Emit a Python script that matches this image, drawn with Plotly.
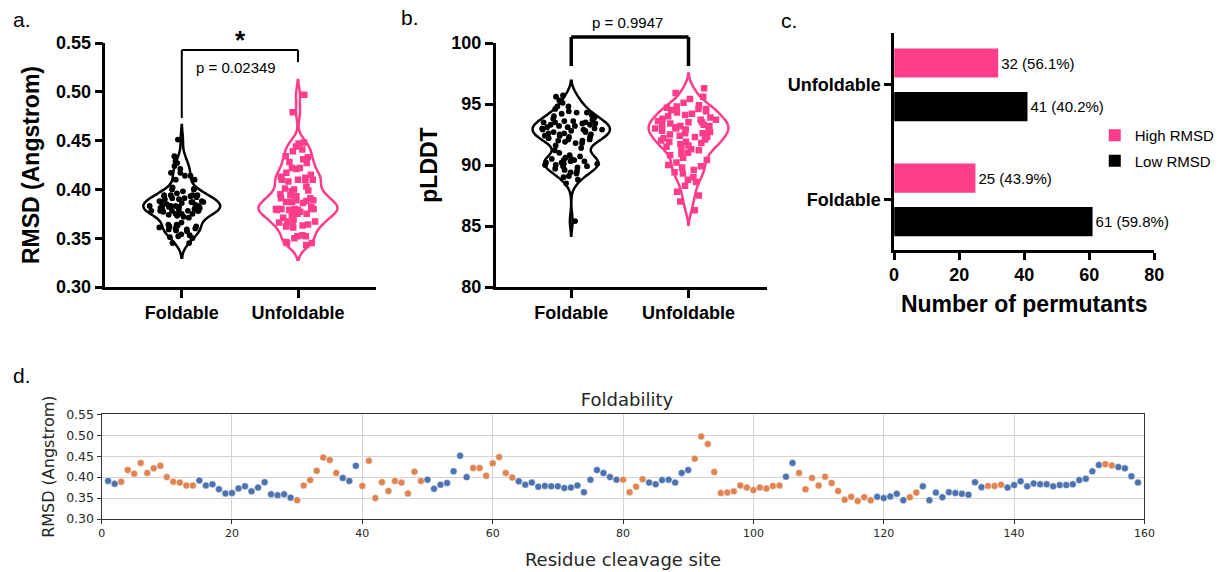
import plotly.graph_objects as go

W, H = 1220, 572
def fx(px): return px / W
def fy(py): return 1 - py / H

ARIAL = "Arial, 'Liberation Sans', sans-serif"
DEJAVU = "'DejaVu Sans', sans-serif"
PINK = "#FF3D8B"
BLUE = "#4C72B0"
ORANGE = "#DD8452"

# ---------------- data ----------------
categories = ["Foldable", "Unfoldable"]

residue_site = list(range(1, 160))
rmsd_by_site = [
    0.391, 0.384, 0.389, 0.417, 0.408, 0.434, 0.410, 0.421, 0.427, 0.400,
    0.389, 0.387, 0.380, 0.380, 0.392, 0.380, 0.383, 0.371, 0.361, 0.362,
    0.373, 0.378, 0.366, 0.375, 0.388, 0.359, 0.357, 0.359, 0.351, 0.345,
    0.380, 0.393, 0.415, 0.447, 0.441, 0.410, 0.398, 0.391, 0.427, 0.379,
    0.439, 0.350, 0.388, 0.367, 0.391, 0.387, 0.361, 0.413, 0.391, 0.394,
    0.372, 0.382, 0.386, 0.414, 0.451, 0.400, 0.422, 0.422, 0.403, 0.433,
    0.448, 0.410, 0.399, 0.390, 0.382, 0.387, 0.377, 0.379, 0.378, 0.378,
    0.374, 0.375, 0.380, 0.364, 0.394, 0.417, 0.410, 0.400, 0.394, 0.394,
    0.364, 0.377, 0.395, 0.387, 0.383, 0.393, 0.394, 0.387, 0.410, 0.417,
    0.444, 0.497, 0.479, 0.412, 0.362, 0.363, 0.366, 0.380, 0.375, 0.369,
    0.375, 0.373, 0.379, 0.380, 0.401, 0.434, 0.410, 0.371, 0.398, 0.380,
    0.401, 0.386, 0.367, 0.346, 0.353, 0.343, 0.352, 0.345, 0.353, 0.350,
    0.354, 0.360, 0.345, 0.352, 0.363, 0.378, 0.345, 0.363, 0.352, 0.364,
    0.362, 0.360, 0.358, 0.388, 0.376, 0.379, 0.379, 0.382, 0.375, 0.381,
    0.390, 0.378, 0.385, 0.383, 0.383, 0.378, 0.381, 0.381, 0.383, 0.393,
    0.396, 0.414, 0.429, 0.431, 0.428, 0.424, 0.421, 0.402, 0.387,
]
# F = foldable, U = unfoldable (one letter per residue cleavage site 1..159)
fold_class = list(
    "FFUUUUUUUUUUUUFFFFFFFFFFFFFFFUUUUUUUFFFUUUUUUUUUUFFFFFFFUUUUUUUFFFF"
    "FFFFFFFFFFFFUUUUFFFFFFFUUUUUUUUUUUUUUFFUUUUUUUUUUUUFFFFFUUFFFFFFFFFF"
    "UUUFFFFFFFFFFFFFFFUUFFFF"
)

plddt_foldable = [
    95.7, 95.6, 95.3, 95.1, 94.8, 94.8, 94.6, 94.4, 94.3, 94.3, 94.2, 94.1, 94.0, 93.9, 93.8,
    93.7, 93.6, 93.5, 93.5, 93.4, 93.4, 93.3, 93.3, 93.2, 93.2, 93.1, 93.1, 93.0, 93.0, 92.9,
    92.9, 92.8, 92.8, 92.7, 92.7, 92.6, 92.6, 92.5, 92.5, 92.4, 92.4, 92.3, 92.3, 92.2, 92.1,
    92.0, 92.0, 91.9, 91.8, 91.6, 91.4, 91.2, 91.0, 90.8, 90.7, 90.6, 90.5, 90.5, 90.4, 90.4,
    90.3, 90.3, 90.2, 90.2, 90.1, 90.1, 90.0, 90.0, 89.9, 89.9, 89.8, 89.7, 89.6, 89.5, 89.4,
    89.3, 89.1, 89.0, 88.8, 88.5, 93.6, 93.5, 92.9, 92.1, 91.8, 85.4,
]
plddt_unfoldable = [
    96.3, 95.9, 95.6, 95.4, 95.1, 94.9, 94.8, 94.7, 94.6, 94.5, 94.4, 94.3, 94.2, 94.1, 94.0,
    93.9, 93.8, 93.7, 93.6, 93.5, 93.4, 93.3, 93.3, 93.2, 93.2, 93.1, 93.0, 92.9, 92.8, 92.7,
    92.6, 92.5, 92.4, 92.3, 92.2, 92.1, 92.0, 91.9, 91.8, 91.7, 91.6, 91.5, 91.4, 91.3, 91.2,
    91.0, 90.8, 90.6, 90.4, 90.2, 90.0, 89.8, 89.6, 89.4, 89.3, 89.0, 88.8, 88.6, 88.3, 87.8,
    87.5, 87.0, 86.3, 93.7, 93.0, 92.6, 92.3, 91.9, 94.6, 93.5, 92.8, 90.9, 89.9,
]

high_rmsd_counts = [25, 32]   # Foldable, Unfoldable
low_rmsd_counts = [61, 41]

p_rmsd = "p = 0.02349"
p_plddt = "p = 0.9947"

# ---------------- derived ----------------
rmsd_foldable = [r for r, c in zip(rmsd_by_site, fold_class) if c == "F"]
rmsd_unfoldable = [r for r, c in zip(rmsd_by_site, fold_class) if c == "U"]
site_colors = [BLUE if c == "F" else ORANGE for c in fold_class]

def pct_labels(counts):
    tot = sum(counts)
    return [f"{v} ({v / tot * 100:.1f}%)" for v in counts]

fig = go.Figure()

def add_violins(values_f, values_u, xa, ya, bw):
    fig.add_trace(go.Violin(
        x=[categories[0]] * len(values_f), y=values_f, xaxis=xa, yaxis=ya,
        points="all", pointpos=0, jitter=0.85, width=0.66, spanmode="soft",
        bandwidth=bw,
        line=dict(color="black", width=2.5), fillcolor="rgba(0,0,0,0)",
        marker=dict(color="black", size=5.8, symbol="circle"),
        showlegend=False, hoveron="points"))
    fig.add_trace(go.Violin(
        x=[categories[1]] * len(values_u), y=values_u, xaxis=xa, yaxis=ya,
        points="all", pointpos=0, jitter=0.85, width=0.68, spanmode="soft",
        bandwidth=bw,
        line=dict(color=PINK, width=2.5), fillcolor="rgba(0,0,0,0)",
        marker=dict(color=PINK, size=6.5, symbol="square"),
        showlegend=False, hoveron="points"))

add_violins(rmsd_foldable, rmsd_unfoldable, "x", "y", 0.0075)
add_violins(plddt_foldable, plddt_unfoldable, "x2", "y2", 0.6)

# panel c bars (Low first so it sits below High within each group)
fig.add_trace(go.Bar(
    y=categories, x=low_rmsd_counts, orientation="h", name="Low RMSD",
    marker=dict(color="black"), text=pct_labels(low_rmsd_counts),
    textposition="outside", cliponaxis=False,
    textfont=dict(family=ARIAL, size=15, color="black"),
    xaxis="x3", yaxis="y3", legendgroup="low", legendrank=2))
fig.add_trace(go.Bar(
    y=categories, x=high_rmsd_counts, orientation="h", name="High RMSD",
    marker=dict(color=PINK), text=pct_labels(high_rmsd_counts),
    textposition="outside", cliponaxis=False,
    textfont=dict(family=ARIAL, size=15, color="black"),
    xaxis="x3", yaxis="y3", legendgroup="high", legendrank=1))

# panel d scatter
fig.add_trace(go.Scatter(
    x=residue_site, y=rmsd_by_site, mode="markers", xaxis="x4", yaxis="y4",
    marker=dict(color=site_colors, size=7, line=dict(color="white", width=0.5)),
    showlegend=False))

bold_tick = dict(family=ARIAL, size=18, color="black", weight="bold")
bold_title = dict(family=ARIAL, size=23, color="black", weight="bold")
prism_axis = dict(showline=True, linewidth=2.5, linecolor="black", ticks="outside",
                  ticklen=8, tickwidth=2.5, tickcolor="black", showgrid=False,
                  zeroline=False, tickfont=bold_tick, automargin=False)

mpl_axis = dict(showline=True, mirror=True, linewidth=1.2, linecolor="#333333",
                ticks="outside", ticklen=4, tickwidth=1, tickcolor="#333333",
                showgrid=True, gridcolor="#d4d4d4", gridwidth=1.3, zeroline=False,
                automargin=False)

fig.update_layout(
    template="none",
    width=W, height=H, margin=dict(l=0, r=0, t=0, b=0, pad=0), autosize=False,
    paper_bgcolor="white", plot_bgcolor="white",
    barmode="group", bargap=0.243, bargroupgap=0.33,
    font=dict(family=ARIAL, color="black"),
    xaxis=dict(prism_axis, domain=[fx(106), fx(378)], anchor="y", type="category",
               categoryorder="array", categoryarray=categories, range=[-0.658, 1.667]),
    yaxis=dict(prism_axis, domain=[fy(287), fy(43)], anchor="x", range=[0.30, 0.55],
               dtick=0.05, tickformat=".2f",
               title=dict(text="RMSD (Angstrom)", font=bold_title, standoff=10)),
    xaxis2=dict(prism_axis, domain=[fx(499), fx(772)], anchor="y2", type="category",
                categoryorder="array", categoryarray=categories, range=[-0.644, 1.669]),
    yaxis2=dict(prism_axis, domain=[fy(287), fy(43)], anchor="x2", range=[80, 100],
                dtick=5, title=dict(text="pLDDT", font=bold_title, standoff=8)),
    xaxis3=dict(prism_axis, domain=[fx(900), fx(1162)], anchor="y3", range=[0, 80],
                dtick=20, ticklen=7,
                title=dict(text="Number of permutants", font=bold_title, standoff=12)),
    yaxis3=dict(prism_axis, domain=[fy(250), fy(33)], anchor="x3", type="category",
                categoryorder="array", categoryarray=categories, range=[-0.435, 1.45],
                ticklen=7),
    xaxis4=dict(mpl_axis, domain=[fx(102.3), fx(1152)], anchor="y4", range=[0, 160],
                dtick=20, tickfont=dict(family=DEJAVU, size=11, color="#262626"),
                title=dict(text="Residue cleavage site", standoff=14,
                           font=dict(family=DEJAVU, size=18, color="#262626"))),
    yaxis4=dict(mpl_axis, domain=[fy(519), fy(414.3)], anchor="x4", range=[0.30, 0.55],
                dtick=0.05, tickformat=".2f",
                tickfont=dict(family=DEJAVU, size=12.5, color="#262626"),
                title=dict(text="RMSD (Angstrom)", standoff=7,
                           font=dict(family=DEJAVU, size=16, color="#262626"))),
    legend=dict(x=fx(1102), y=fy(119), xanchor="left", yanchor="top",
                traceorder="grouped", tracegroupgap=3, itemwidth=30,
                font=dict(family=ARIAL, size=15, color="black"),
                bgcolor="rgba(0,0,0,0)"),
    title=dict(text="Foldability", x=fx(627), xanchor="center", y=fy(400),
               yanchor="middle", font=dict(family=DEJAVU, size=18, color="#262626")),
)

# significance brackets
shapes = []
for (xa, top, lft, rgt, lw) in [("x", 50, 118, 62, 2), ("x2", 37, 66, 66, 3.5)]:
    shapes.append(dict(type="line", xref=xa, yref="paper", x0=categories[0], x1=categories[1],
                       y0=fy(top), y1=fy(top), line=dict(color="black", width=lw)))
    shapes.append(dict(type="line", xref=xa, yref="paper", x0=categories[0], x1=categories[0],
                       y0=fy(top), y1=fy(lft), line=dict(color="black", width=lw)))
    shapes.append(dict(type="line", xref=xa, yref="paper", x0=categories[1], x1=categories[1],
                       y0=fy(top), y1=fy(rgt), line=dict(color="black", width=lw)))
fig.update_layout(shapes=shapes)

ann = []
def label(text, x, y, size, xanchor="left", family=ARIAL, weight="normal"):
    ann.append(dict(text=text, x=fx(x), y=fy(y), xref="paper", yref="paper",
                    xanchor=xanchor, yanchor="middle", showarrow=False,
                    font=dict(family=family, size=size, color="black", weight=weight)))

label("a.", 11, 19, 21)
label("b.", 402, 18, 21)
label("c.", 784, 20, 21)
label("d.", 11, 376, 21)
label(p_rmsd, 237.5, 67.5, 15, xanchor="center")
label("*", 242, 40, 26, xanchor="center", weight="bold")
label(p_plddt, 632, 22.5, 15, xanchor="center")
fig.update_layout(annotations=ann)

fig.write_html("out.html", config={"displayModeBar": False},
               post_script="document.body.style.margin='0';document.body.style.overflow='hidden';")
